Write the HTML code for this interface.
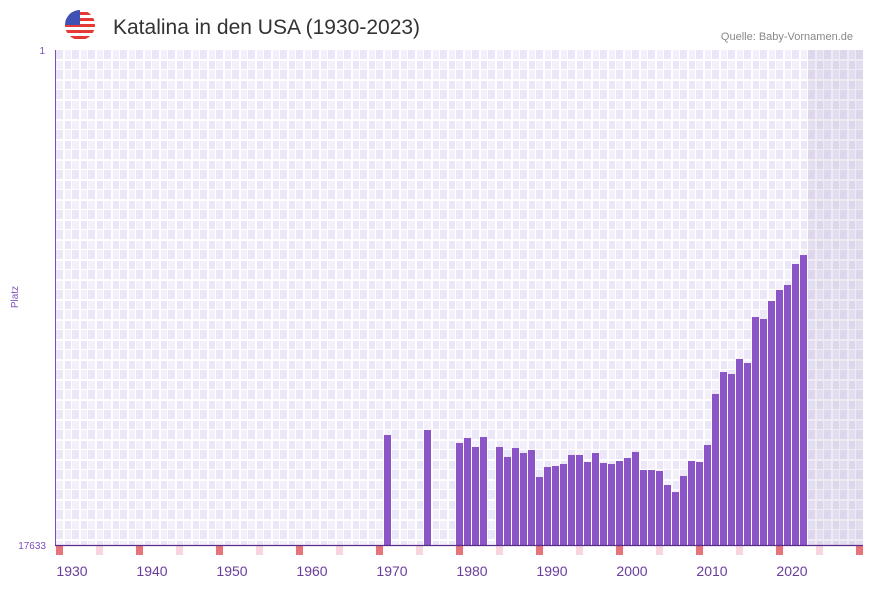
<!DOCTYPE html>
<html><head><meta charset="utf-8"><style>
body{margin:0;background:#fff;font-family:"Liberation Sans",sans-serif;}
</style></head><body>
<svg id="c" width="873" height="587" xmlns="http://www.w3.org/2000/svg">
<defs>
<pattern id="grid" x="56" y="50" width="16" height="20" patternUnits="userSpaceOnUse">
<rect width="16" height="20" fill="#f3f0fb"/>
<rect x="0" y="0" width="8" height="10" fill="#ece7f8"/>
<rect x="8" y="10" width="8" height="10" fill="#ece7f8"/>
<rect x="7" y="0" width="2" height="20" fill="#fff"/>
<rect x="15" y="0" width="1" height="20" fill="#fff"/>
<rect x="0" y="9" width="16" height="2" fill="#fff"/>
<rect x="0" y="19" width="16" height="1" fill="#fff"/>
</pattern>
<clipPath id="fc"><circle cx="80" cy="25" r="15"/></clipPath>
</defs>
<g clip-path="url(#fc)">
<rect x="65" y="10" width="30" height="30" fill="#fff"/>
<rect x="65" y="12" width="30" height="3" fill="#e53935"/>
<rect x="65" y="18" width="30" height="3" fill="#e53935"/>
<rect x="65" y="24" width="30" height="3" fill="#e53935"/>
<rect x="65" y="30" width="30" height="3" fill="#e53935"/>
<rect x="65" y="36" width="30" height="3" fill="#e53935"/>
<rect x="65" y="10" width="15" height="15" fill="#3f51b5"/>
</g>
<text x="113" y="34" font-size="21" fill="#333">Katalina in den USA (1930-2023)</text>
<text x="853" y="40" font-size="11" fill="#888" text-anchor="end">Quelle: Baby-Vornamen.de</text>
<rect x="56" y="50" width="807" height="495" fill="url(#grid)"/>
<rect x="808" y="50" width="55" height="495" fill="#8a7ab0" opacity="0.15"/>
<g id="bars"></g>
<g id="marks"></g>
<g id="xl"></g>
<line x1="55.5" y1="50" x2="55.5" y2="545" stroke="#7b4fb8" stroke-width="1"/>
<line x1="55" y1="545.5" x2="863" y2="545.5" stroke="#5a2d8a" stroke-width="1.2"/>
<text x="45" y="54" font-size="10" fill="#7b4fb8" text-anchor="end">1</text>
<text x="46" y="549" font-size="10" fill="#7b4fb8" text-anchor="end">17633</text>
<text transform="translate(18,297) rotate(-90)" font-size="10" fill="#7b4fb8" text-anchor="middle">Platz</text>
</svg>
<script>
const years=[1971,1976,1980,1981,1982,1983,1985,1986,1987,1988,1989,1990,1991,1992,1993,1994,1995,1996,1997,1998,1999,2000,2001,2002,2003,2004,2005,2006,2007,2008,2009,2010,2011,2012,2013,2014,2015,2016,2017,2018,2019,2020,2021,2022,2023];
const ranks=[13715,13537,13999,13821,14142,13786,14142,14497,14178,14356,14249,15211,14855,14819,14748,14427,14427,14677,14356,14712,14748,14641,14534,14320,14962,14962,14997,15496,15746,15176,14641,14677,14071,12254,11471,11542,11008,11150,9512,9583,8942,8550,8372,7624,7304];
const xTicks=[1930,1940,1950,1960,1970,1980,1990,2000,2010,2020];
const minRank=1,maxRank=17633;
const NS="http://www.w3.org/2000/svg";
const x=y=>56+(y-1930)*8;
const yS=r=>50+(r-minRank)/(maxRank-minRank)*495;
const bars=document.getElementById('bars');
years.forEach((yr,i)=>{const r=document.createElementNS(NS,'rect');
r.setAttribute('x',x(yr));r.setAttribute('width',7);
const t=yS(ranks[i]);r.setAttribute('y',t);r.setAttribute('height',545-t);r.setAttribute('fill','#8b55c8');


bars.appendChild(r);});
const marks=document.getElementById('marks');
for(let yr=1930;yr<=2030;yr+=5){const r=document.createElementNS(NS,'rect');
r.setAttribute('x',x(yr));r.setAttribute('y',546);r.setAttribute('width',7);r.setAttribute('height',9);
r.setAttribute('fill',(yr%10===0)?'#e8737a':'#f7d6de');


marks.appendChild(r);}
const xl=document.getElementById('xl');
xTicks.forEach(yr=>{const t=document.createElementNS(NS,'text');
t.setAttribute('x',x(yr)+16);t.setAttribute('y',576);t.setAttribute('font-size','14');t.setAttribute('fill','#6a3d9a');t.setAttribute('text-anchor','middle');
t.textContent=yr;


xl.appendChild(t);});
</script>
</body></html>
